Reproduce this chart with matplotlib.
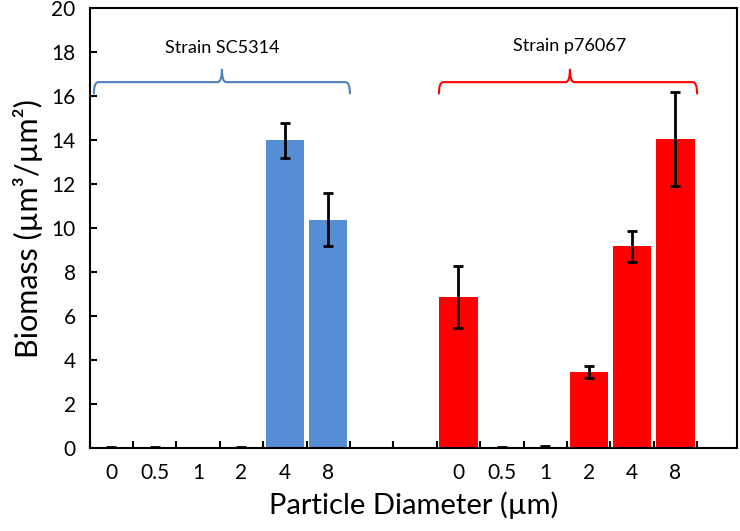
import numpy as np
import matplotlib
matplotlib.use("Agg")
import matplotlib.pyplot as plt
from matplotlib.path import Path
from matplotlib.patches import PathPatch

plt.rcParams["font.family"] = ["Lato", "DejaVu Sans"]

# Categories (two strains with an empty gap of two slots between them)
labels = ["0", "0.5", "1", "2", "4", "8", "", "", "0", "0.5", "1", "2", "4", "8"]
sc5314_vals = [0.02, 0.02, 0.0, 0.04, 14.0, 10.4]
sc5314_err = [0.02, 0.02, 0.0, 0.03, 0.8, 1.22]
p76067_vals = [6.88, 0.03, 0.06, 3.47, 9.19, 14.06]
p76067_err = [1.42, 0.03, 0.05, 0.29, 0.71, 2.13]

blue = "#558ED5"
red = "#FF0000"

x_blue = np.arange(6)
x_red = np.arange(8, 14)

fig = plt.figure(figsize=(7.4, 5.31), dpi=100)
ax = fig.add_axes([0.121, 0.156, 0.875, 0.828])

err_kw = dict(ecolor="black", elinewidth=2, capsize=3.5, capthick=2)
ax.bar(x_blue, sc5314_vals, width=0.88, color=blue, yerr=sc5314_err, error_kw=err_kw)
ax.bar(x_red, p76067_vals, width=0.88, color=red, yerr=p76067_err, error_kw=err_kw)

ax.set_xlim(-0.5, 14.42)
ax.set_ylim(0, 20)
ax.set_yticks(range(0, 21, 2))
ax.set_xticks(np.arange(14))
ax.set_xticklabels(labels)
ax.set_xticks(np.arange(-0.5, 14, 1), minor=True)
ax.tick_params(axis="x", which="major", length=0, labelsize=15, pad=11)
ax.tick_params(axis="x", which="minor", direction="in", length=5, width=1.5)
ax.tick_params(axis="y", direction="in", length=5, width=1.5, labelsize=15, pad=10)
for s in ax.spines.values():
    s.set_linewidth(1.5)

ax.set_xlabel("Particle Diameter (µm)", fontsize=21, labelpad=6)
ax.set_ylabel("Biomass (µm³/µm²)", fontsize=22, labelpad=6)


def bracket(ax, x0, x1, xm, y, color):
    tip = 16.1
    peak = 17.25
    r = 0.1
    verts = [
        (x0, tip), (x0, y), (x0 + r, y),
        (xm - r, y), (xm, y), (xm, peak),
        (xm, y), (xm + r, y),
        (x1 - r, y), (x1, y), (x1, tip),
    ]
    codes = [
        Path.MOVETO, Path.CURVE3, Path.CURVE3,
        Path.LINETO, Path.CURVE3, Path.CURVE3,
        Path.CURVE3, Path.CURVE3,
        Path.LINETO, Path.CURVE3, Path.CURVE3,
    ]
    ax.add_patch(PathPatch(Path(verts, codes), fill=False, edgecolor=color, lw=1.5))


bracket(ax, -0.4, 5.5, 2.55, 16.65, "#4F81BD")
bracket(ax, 7.55, 13.5, 10.57, 16.65, red)
ax.text(2.55, 18.2, "Strain SC5314", ha="center", va="center", fontsize=13)
ax.text(10.57, 18.3, "Strain p76067", ha="center", va="center", fontsize=13)

fig.savefig("out.png", dpi=100)
